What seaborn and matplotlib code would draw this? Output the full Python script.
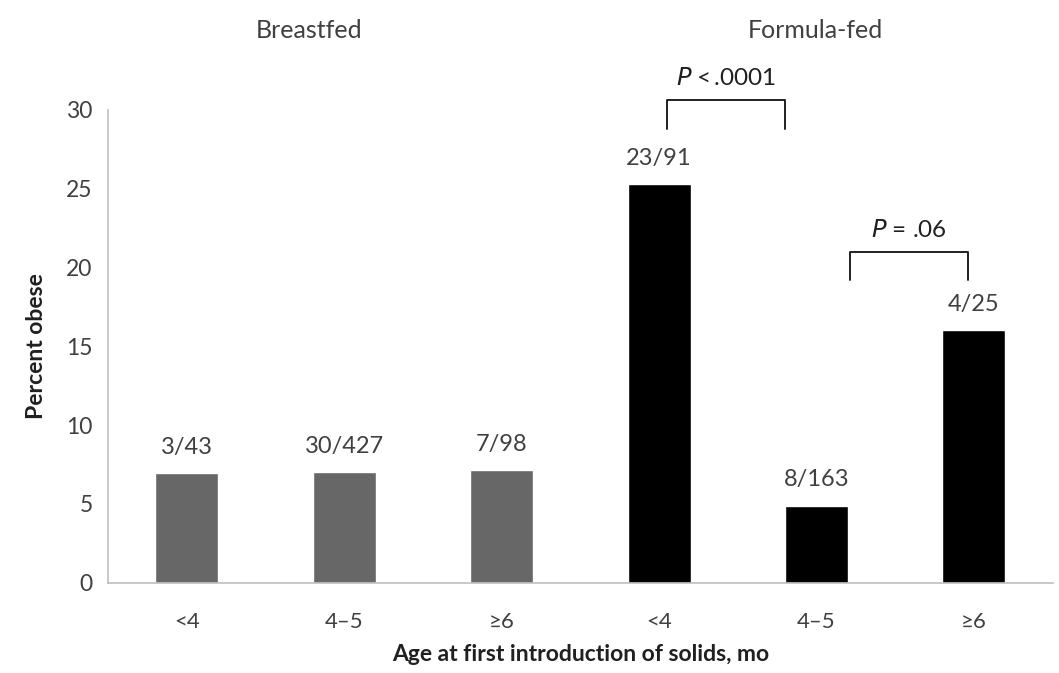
import matplotlib
matplotlib.use("Agg")
import matplotlib.pyplot as plt
import seaborn as sns
import pandas as pd

# data
groups = ["Breastfed", "Breastfed", "Breastfed", "Formula-fed", "Formula-fed", "Formula-fed"]
age_labels = ["<4", "4\u20135", "\u22656", "<4", "4\u20135", "\u22656"]
pct_obese = [6.98, 7.03, 7.14, 25.3, 4.9, 16.0]
counts = ["3/43", "30/427", "7/98", "23/91", "8/163", "4/25"]
p_texts = ["<\u2009.0001", "= .06"]
p_pairs = [(3, 4), (4, 5)]

sns.set_theme(style="white")
plt.rcParams["font.family"] = ["Lato", "DejaVu Sans"]

df = pd.DataFrame({
    "slot": [f"s{i}" for i in range(len(pct_obese))],
    "group": groups,
    "pct": pct_obese,
})

fig = plt.figure(figsize=(10.59, 6.73), dpi=100)
ax = fig.add_axes([0.102, 0.134, 0.892, 0.703])

sns.barplot(data=df, x="slot", y="pct", hue="group",
            palette={"Breastfed": "#676767", "Formula-fed": "#000000"},
            width=0.4, dodge=False, legend=False, ax=ax, saturation=1)

ax.set_xlim(-0.5, 5.5)
ax.set_ylim(0, 30)
ax.set_yticks(range(0, 31, 5))
ax.set_xticks(range(6))
ax.set_xticklabels(age_labels)
ax.set_xticks([i - 0.5 for i in range(7)], minor=True)

gray = "#bfbfbf"
txt = "#404040"
for side in ["top", "right"]:
    ax.spines[side].set_visible(False)
for side in ["left", "bottom"]:
    ax.spines[side].set_color(gray)
    ax.spines[side].set_linewidth(1.2)

ax.tick_params(axis="x", which="major", length=0, pad=21, labelsize=16, labelcolor=txt)
ax.tick_params(axis="x", which="minor", length=7, width=1.2, color=gray, direction="out")
ax.tick_params(axis="y", length=7, width=1.2, color=gray, direction="out",
               labelsize=16.5, labelcolor=txt, pad=4)

ax.set_xlabel("Age at first introduction of solids, mo", fontsize=16.5,
              fontweight="bold", color="#202020", labelpad=9)
ax.set_ylabel("Percent obese", fontsize=16.5, fontweight="bold",
              color="#202020", labelpad=14)

# count labels above bars
for i, (v, c) in enumerate(zip(pct_obese, counts)):
    ax.annotate(c, (i, v), xytext=(0, 18.5), textcoords="offset points",
                ha="center", va="center", fontsize=17, color=txt)

# group titles
ax.text(0.78, 35.0, "Breastfed", ha="center", va="center", fontsize=18, color=txt)
ax.text(3.99, 35.0, "Formula-fed", ha="center", va="center", fontsize=18, color=txt)

# significance brackets
bracket_tops = [30.6, 21.0]
bracket_insets = [(0.05, 0.2), (0.21, 0.04)]
for (a, b), p, top, (l, r) in zip(p_pairs, p_texts, bracket_tops, bracket_insets):
    x0, x1 = a + l, b - r
    ax.plot([x0, x0, x1, x1], [top - 1.8, top, top, top - 1.8],
            color="#202020", lw=1.4, clip_on=False)
    ax.text((x0 + x1) / 2, top + 1.4, "$P$ " + p, ha="center", va="center",
            fontsize=17.5, color="#202020", clip_on=False)

fig.savefig("out.png", dpi=100)
